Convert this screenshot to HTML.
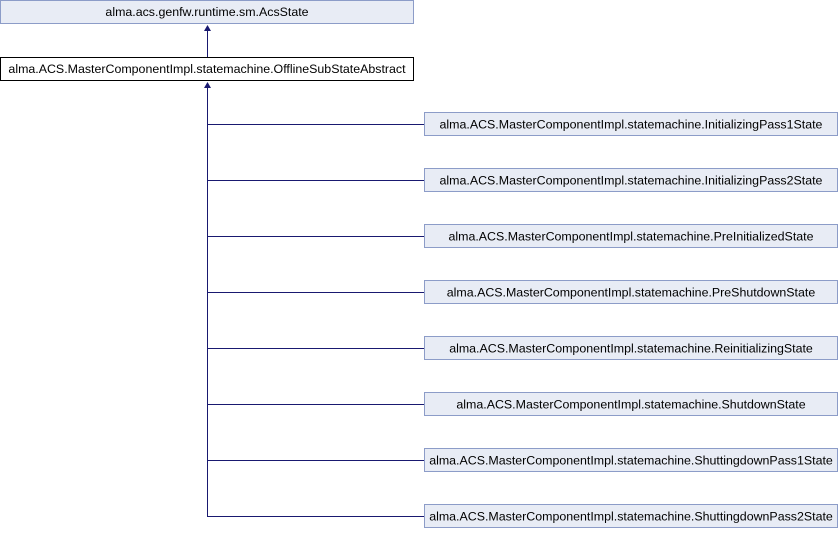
<!DOCTYPE html>
<html><head><style>
body{margin:0;width:838px;height:528px;background:#fff;overflow:hidden}
svg text{font-family:"Liberation Sans",sans-serif;font-size:12.4px;fill:#000}
</style></head><body>
<svg width="838" height="528" xmlns="http://www.w3.org/2000/svg">
<rect x="0.5" y="0.5" width="413" height="23" fill="#e8ecf5" stroke="#8c9cc8"/>
<text x="207" y="16" text-anchor="middle">alma.acs.genfw.runtime.sm.AcsState</text>
<rect x="0.5" y="57.5" width="413" height="23" fill="#fff" stroke="#000"/>
<text x="207" y="73" text-anchor="middle">alma.ACS.MasterComponentImpl.statemachine.OfflineSubStateAbstract</text>
<g stroke="#191970" stroke-width="1" fill="none">
<line x1="207.5" y1="30" x2="207.5" y2="57"/>
<line x1="207.5" y1="87" x2="207.5" y2="516.5"/>
</g>
<g fill="#191970">
<polygon points="207.5,25 204,31 211,31"/>
<polygon points="207.5,82 204,88 211,88"/>
</g>
<g stroke="#191970" fill="none">
<line x1="207" y1="124.5" x2="424" y2="124.5"/>
<line x1="207" y1="180.5" x2="424" y2="180.5"/>
<line x1="207" y1="236.5" x2="424" y2="236.5"/>
<line x1="207" y1="292.5" x2="424" y2="292.5"/>
<line x1="207" y1="348.5" x2="424" y2="348.5"/>
<line x1="207" y1="404.5" x2="424" y2="404.5"/>
<line x1="207" y1="460.5" x2="424" y2="460.5"/>
<line x1="207" y1="516.5" x2="424" y2="516.5"/>
</g>
<g fill="#e8ecf5" stroke="#8c9cc8">
<rect x="424.5" y="112.5" width="413" height="23"/>
<rect x="424.5" y="168.5" width="413" height="23"/>
<rect x="424.5" y="224.5" width="413" height="23"/>
<rect x="424.5" y="280.5" width="413" height="23"/>
<rect x="424.5" y="336.5" width="413" height="23"/>
<rect x="424.5" y="392.5" width="413" height="23"/>
<rect x="424.5" y="448.5" width="413" height="23"/>
<rect x="424.5" y="504.5" width="413" height="23"/>
</g>
<g text-anchor="middle">
<text x="631" y="128.5">alma.ACS.MasterComponentImpl.statemachine.InitializingPass1State</text>
<text x="631" y="184.5">alma.ACS.MasterComponentImpl.statemachine.InitializingPass2State</text>
<text x="631" y="240.5">alma.ACS.MasterComponentImpl.statemachine.PreInitializedState</text>
<text x="631" y="296.5">alma.ACS.MasterComponentImpl.statemachine.PreShutdownState</text>
<text x="631" y="352.5">alma.ACS.MasterComponentImpl.statemachine.ReinitializingState</text>
<text x="631" y="408.5">alma.ACS.MasterComponentImpl.statemachine.ShutdownState</text>
<text x="631" y="464.5">alma.ACS.MasterComponentImpl.statemachine.ShuttingdownPass1State</text>
<text x="631" y="520.5">alma.ACS.MasterComponentImpl.statemachine.ShuttingdownPass2State</text>
</g>
</svg>
</body></html>
